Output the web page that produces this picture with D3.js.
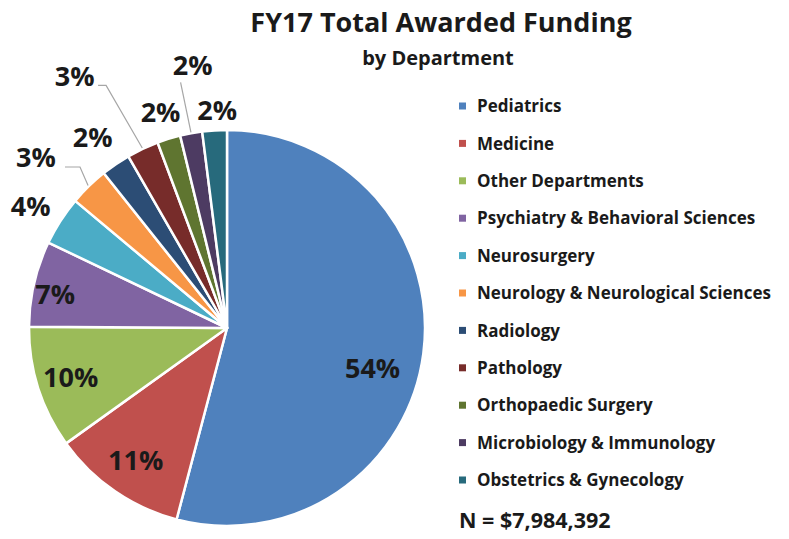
<!DOCTYPE html>
<html>
<head>
<meta charset="utf-8">
<script src="https://cdn.jsdelivr.net/npm/d3@7"></script>
<style>
  body { margin: 0; background: #fff; }
  text { font-family: "Open Sans", Lato, sans-serif; font-weight: bold; fill: #1a1a1a; }
</style>
</head>
<body>
<div id="chart"></div>
<script>
// data (share of total, percent)
var departments = ["Pediatrics", "Medicine", "Other Departments", "Psychiatry & Behavioral Sciences",
  "Neurosurgery", "Neurology & Neurological Sciences", "Radiology", "Pathology",
  "Orthopaedic Surgery", "Microbiology & Immunology", "Obstetrics & Gynecology"];
var shares = [54.1, 11.0, 10.0, 7.0, 4.0, 3.2, 2.4, 2.6, 1.9, 1.8, 2.0];
var colors = ["#4f81bd", "#c0504d", "#9bbb59", "#8064a2", "#4bacc6", "#f79646",
  "#2c4d75", "#772c2a", "#5f7530", "#4d3b62", "#276a7c"];
var totalLabel = "N = $7,984,392";

// label placement: radius from centre and angle nudge (deg); leader = has callout line
var labelRadius = [151, 161, 164, 175, 231, 256, 233, 294, 226, 265, 218];
var labelNudge  = [8, 0, 0, -2, -1, -4, -1, -6, 0, 3, 1];
var leader = [null, null, null, null, null,
  {r: 218, a: 317.6, dx: -15}, null,
  {r: 271, a: 333.5, dx: -8}, null,
  {r: 250, a: 349.3, dx: 0}, null];

var W = 789, H = 539;
var cx = 227, cy = 328, R = 198;

var svg = d3.select("#chart").append("svg")
    .attr("width", W)
    .attr("height", H);

// title
svg.append("text")
    .attr("x", 441).attr("y", 32)
    .attr("text-anchor", "middle")
    .style("font-size", "27px")
    .text("FY17 Total Awarded Funding");
svg.append("text")
    .attr("x", 438).attr("y", 65)
    .attr("text-anchor", "middle")
    .style("font-size", "20px")
    .text("by Department");

var pie = d3.pie().sort(null).value(function(d) { return d; });
var arcs = pie(shares);
var arc = d3.arc().innerRadius(0).outerRadius(R);

var g = svg.append("g")
    .attr("transform", "translate(" + cx + "," + cy + ")");

g.selectAll("path.slice")
    .data(arcs)
    .enter().append("path")
    .attr("class", "slice")
    .attr("d", arc)
    .attr("fill", function(d, i) { return colors[i]; })
    .attr("stroke", "#fff")
    .attr("stroke-width", 2.5)
    .attr("stroke-linejoin", "round");

function polar(r, deg) {
  var a = deg * Math.PI / 180;
  return [r * Math.sin(a), -r * Math.cos(a)];
}
function midDeg(d) { return (d.startAngle + d.endAngle) / 2 * 180 / Math.PI; }

// leader lines
arcs.forEach(function(d, i) {
  var l = leader[i];
  if (!l) return;
  var p0 = polar(R + 1, midDeg(d));
  var p1 = polar(l.r, l.a);
  var p2 = [p1[0] + l.dx, p1[1]];
  g.append("polyline")
      .attr("points", [p0, p1, p2].map(function(p) { return p.join(","); }).join(" "))
      .attr("fill", "none")
      .attr("stroke", "#a6a6a6")
      .attr("stroke-width", 1.2);
});

// percent labels
g.selectAll("text.pct")
    .data(arcs)
    .enter().append("text")
    .attr("class", "pct")
    .attr("transform", function(d, i) {
      var p = polar(labelRadius[i], midDeg(d) + labelNudge[i]);
      return "translate(" + p[0] + "," + p[1] + ")";
    })
    .attr("text-anchor", "middle")
    .attr("dy", "0.36em")
    .style("font-size", "27px")
    .text(function(d) { return Math.round(d.data) + "%"; });

// legend
var ly = d3.scalePoint().domain(departments).range([106, 480]);
var legend = svg.append("g");
var item = legend.selectAll("g")
    .data(departments)
    .enter().append("g")
    .attr("transform", function(d) { return "translate(459," + ly(d) + ")"; });
item.append("rect")
    .attr("x", 0).attr("y", -3.5)
    .attr("width", 7).attr("height", 7)
    .attr("fill", function(d, i) { return colors[i]; });
item.append("text")
    .attr("x", 18).attr("dy", "0.36em")
    .style("font-size", "17px")
    .text(function(d) { return d; });

svg.append("text")
    .attr("x", 459).attr("y", 528)
    .style("font-size", "21.5px")
    .text(totalLabel);
</script>
</body>
</html>
